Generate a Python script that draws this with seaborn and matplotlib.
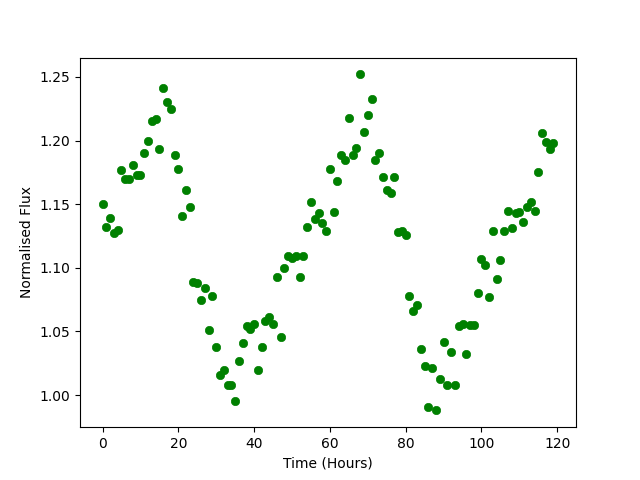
import numpy as np
import pandas as pd
import seaborn as sns
import matplotlib
matplotlib.use("Agg")
import matplotlib.pyplot as plt

# hourly samples
hours = list(range(120))
flux = [
    1.150, 1.132, 1.139, 1.127, 1.130, 1.177, 1.170, 1.170, 1.181, 1.173,
    1.173, 1.190, 1.200, 1.215, 1.217, 1.193, 1.241, 1.230, 1.225, 1.189,
    1.178, 1.141, 1.161, 1.148, 1.089, 1.088, 1.075, 1.084, 1.051, 1.078,
    1.038, 1.016, 1.020, 1.008, 1.008, 0.995, 1.027, 1.041, 1.054, 1.052,
    1.056, 1.020, 1.038, 1.058, 1.061, 1.056, 1.093, 1.046, 1.100, 1.109,
    1.108, 1.109, 1.093, 1.109, 1.132, 1.152, 1.138, 1.143, 1.135, 1.129,
    1.178, 1.144, 1.168, 1.189, 1.185, 1.218, 1.189, 1.194, 1.252, 1.207,
    1.220, 1.233, 1.185, 1.190, 1.171, 1.161, 1.159, 1.171, 1.128, 1.129,
    1.126, 1.078, 1.066, 1.071, 1.036, 1.023, 0.991, 1.021, 0.988, 1.013,
    1.042, 1.008, 1.034, 1.008, 1.054, 1.056, 1.032, 1.055, 1.055, 1.080,
    1.107, 1.102, 1.077, 1.129, 1.091, 1.106, 1.129, 1.145, 1.131, 1.143,
    1.144, 1.136, 1.148, 1.152, 1.145, 1.175, 1.206, 1.199, 1.193, 1.198,
]

df = pd.DataFrame({"hours": hours, "flux": flux})

fig, ax = plt.subplots(figsize=(6.4, 4.8), dpi=100)
sns.scatterplot(data=df, x="hours", y="flux", color="green",
                s=36, edgecolor="green", linewidth=0.5, ax=ax)
ax.set_xlabel("Time (Hours)")
ax.set_ylabel("Normalised Flux")

fig.savefig("out.png", dpi=100)
